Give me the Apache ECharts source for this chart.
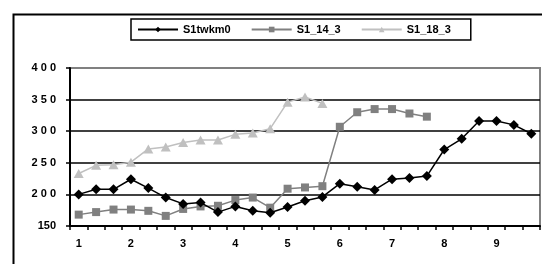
<!DOCTYPE html>
<html>
<head>
<meta charset="utf-8">
<script src="https://cdn.jsdelivr.net/npm/echarts@6/dist/echarts.min.js"></script>
<style>
  html, body { margin: 0; padding: 0; background: #fff; }
  #chart { width: 542px; height: 264px; }
</style>
</head>
<body>
<div id="chart"></div>
<script>
// x axis: 27 points, a label every third one
const xLabels = ['1', '', '', '2', '', '', '3', '', '', '4', '', '', '5', '', '',
                 '6', '', '', '7', '', '', '8', '', '', '9', '', '']

const seriesNames = ['S1twkm0', 'S1_14_3', 'S1_18_3']

const s1twkm0 = [200, 208, 208, 224, 210, 195, 185, 187, 172, 181, 174, 171, 180, 190,
                 196, 217, 212, 207, 224, 226, 229, 271, 288, 316, 316, 310, 296]
const s1_14_3 = [168, 172, 176, 176, 174, 166, 177, 181, 182, 191, 195, 179, 209, 211,
                 213, 307, 330, 335, 335, 328, 323]
const s1_18_3 = [233, 246, 247, 251, 272, 275, 282, 286, 286, 295, 297, 304, 346, 354, 344]

const yTicks = { min: 150, max: 400, interval: 50 }

const chart = echarts.init(document.getElementById('chart'))

const font = 'Liberation Sans'

const option = {
  animation: false,
  backgroundColor: '#fff',
  graphic: [{
    type: 'rect',
    left: 11,
    top: 12,
    shape: { width: 620, height: 320 },
    style: { fill: null, stroke: '#000', lineWidth: 2 },
    silent: true
  }],
  legend: {
    left: 131,
    top: 19,
    padding: [5, 20, 5, 6],
    itemGap: 20,
    itemWidth: 40,
    itemHeight: 7,
    borderColor: '#000',
    borderWidth: 1.5,
    backgroundColor: '#fff',
    textStyle: { fontFamily: font, fontWeight: 'bold', fontSize: 11, color: '#000' },
    data: seriesNames
  },
  grid: {
    left: 70,
    right: 2,
    top: 68,
    bottom: 38,
    show: true,
    borderColor: '#808080',
    borderWidth: 2
  },
  xAxis: {
    type: 'category',
    data: xLabels,
    boundaryGap: true,
    axisLine: { lineStyle: { color: '#000', width: 2 } },
    axisTick: { show: true, interval: 0, length: 4, lineStyle: { color: '#000', width: 1.5 } },
    axisLabel: {
      interval: 0,
      margin: 12,
      fontFamily: font,
      fontWeight: 'bold',
      fontSize: 11,
      color: '#000'
    }
  },
  yAxis: {
    type: 'value',
    min: yTicks.min,
    max: yTicks.max,
    interval: yTicks.interval,
    axisLine: { show: true, lineStyle: { color: '#000', width: 2 } },
    axisTick: { show: true, length: 4, lineStyle: { color: '#000', width: 1.5 } },
    splitLine: {
      show: true,
      showMinLine: false,
      showMaxLine: false,
      lineStyle: { color: '#000', width: 1.5 }
    },
    axisLabel: {
      margin: 14,
      fontFamily: font,
      fontWeight: 'bold',
      fontSize: 11,
      color: '#000',
      // the original spreads the digits out, except on the bottom value
      formatter: v => v === yTicks.min ? String(v) : String(v).split('').join(' ')
    }
  },
  series: [
    {
      name: seriesNames[0],
      type: 'line',
      data: s1twkm0,
      symbol: 'diamond',
      symbolSize: 10,
      color: '#000000',
      lineStyle: { width: 1.5, color: '#000000' },
      itemStyle: { color: '#000000' },
      z: 4
    },
    {
      name: seriesNames[1],
      type: 'line',
      data: s1_14_3,
      symbol: 'rect',
      symbolSize: 8,
      color: '#808080',
      lineStyle: { width: 1.5, color: '#808080' },
      itemStyle: { color: '#808080' },
      z: 3
    },
    {
      name: seriesNames[2],
      type: 'line',
      data: s1_18_3,
      symbol: 'triangle',
      symbolSize: [10, 9],
      color: '#C0C0C0',
      lineStyle: { width: 1.5, color: '#C0C0C0' },
      itemStyle: { color: '#C0C0C0' },
      z: 2
    }
  ]
}

chart.setOption(option)
</script>
</body>
</html>
